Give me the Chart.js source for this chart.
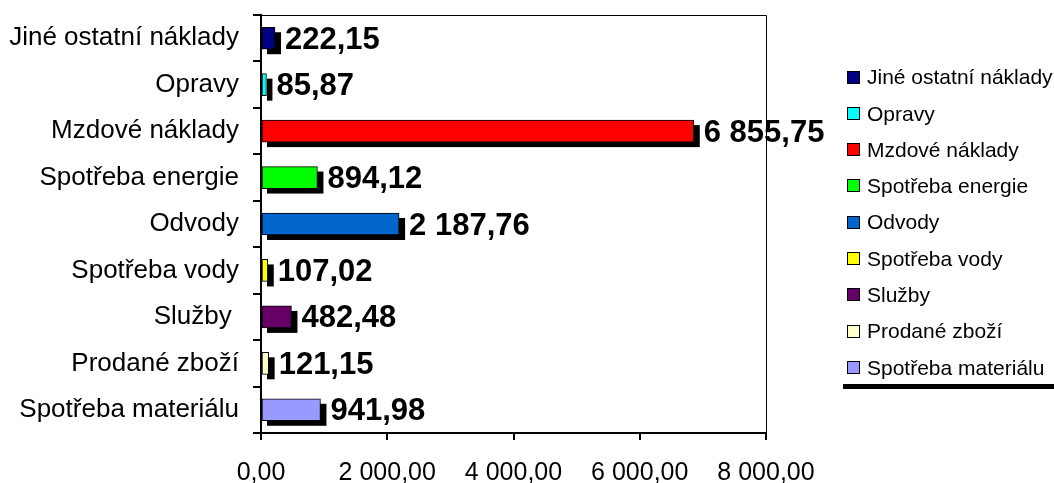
<!DOCTYPE html>
<html>
<head>
<meta charset="utf-8">
<script src="https://cdn.jsdelivr.net/npm/chart.js@4.4.1/dist/chart.umd.min.js"></script>
<style>
  html, body { margin: 0; padding: 0; background: #fff; }
  #wrap { width: 1054px; height: 483px; position: relative; }
</style>
</head>
<body>
<div id="wrap"><canvas id="chart" width="1054" height="483"></canvas></div>
<script>
const categories = ["Jiné ostatní náklady", "Opravy", "Mzdové náklady", "Spotřeba energie", "Odvody", "Spotřeba vody", "Služby ", "Prodané zboží", "Spotřeba materiálu"];
const values = [222.15, 85.87, 6855.75, 894.12, 2187.76, 107.02, 482.48, 121.15, 941.98];
const colors = ["#000080", "#00ffff", "#ff0000", "#00ff00", "#0066cc", "#ffff00", "#660066", "#ffffcc", "#9999ff"];
const xTicks = [0, 2000, 4000, 6000, 8000];

const FONT = "Arial, 'Liberation Sans', sans-serif";

function czNumber(v) {
  const [int, dec] = Math.abs(v).toFixed(2).split(".");
  return int.replace(/\B(?=(\d{3})+(?!\d))/g, " ") + "," + dec;
}

const shadowPlugin = {
  id: "shadow",
  beforeDatasetsDraw(chart) {
    const ctx = chart.ctx;
    ctx.save();
    ctx.fillStyle = "#000";
    chart.getDatasetMeta(0).data.forEach((bar) => {
      const h = bar.height;
      ctx.fillRect(bar.base + 5, bar.y - h / 2 + 5, bar.x - bar.base + 1, h);
    });
    ctx.restore();
  },
  afterDatasetsDraw(chart) {
    const ctx = chart.ctx;
    ctx.save();
    ctx.font = "bold 31px " + FONT;
    ctx.fillStyle = "#000";
    ctx.textBaseline = "middle";
    ctx.textAlign = "left";
    chart.getDatasetMeta(0).data.forEach((bar, i) => {
      ctx.fillText(czNumber(values[i]), bar.x + 10, bar.y + 2);
    });
    ctx.restore();
  },
  afterDraw(chart) {
    const ctx = chart.ctx;
    const a = chart.chartArea;
    ctx.save();
    ctx.strokeStyle = "#000";
    ctx.lineWidth = 1;
    ctx.beginPath();
    ctx.moveTo(Math.round(a.left), Math.round(a.top) + 0.5);
    ctx.lineTo(Math.round(a.right) + 0.5, Math.round(a.top) + 0.5);
    ctx.lineTo(Math.round(a.right) + 0.5, Math.round(a.bottom));
    ctx.stroke();
    // legend
    ctx.font = "21px " + FONT;
    ctx.textBaseline = "middle";
    ctx.textAlign = "left";
    categories.forEach((c, i) => {
      const y = 77.5 + i * 36.3;
      ctx.fillStyle = colors[i];
      ctx.fillRect(847, Math.round(y) - 7, 13, 13);
      ctx.strokeStyle = "#000";
      ctx.strokeRect(847.5, Math.round(y) - 6.5, 12, 12);
      ctx.fillStyle = "#000";
      ctx.fillText(c.trim(), 867, y + 1);
    });
    ctx.fillRect(843, 384, 211, 5);
    ctx.restore();
  }
};

new Chart(document.querySelector("#chart"), {
  type: "bar",
  data: {
    labels: categories,
    datasets: [{
      data: values,
      backgroundColor: colors,
      borderColor: "#000",
      borderWidth: 1,
      borderSkipped: false,
      barThickness: 22
    }]
  },
  options: {
    responsive: false,
    animation: false,
    indexAxis: "y",
    layout: { padding: { top: 15, right: 288, bottom: 0, left: 0 } },
    plugins: { legend: { display: false }, tooltip: { enabled: false } },
    scales: {
      x: {
        min: 0,
        max: 8000,
        afterBuildTicks: (axis) => { axis.ticks = xTicks.map((v) => ({ value: v })); },
        afterFit: (axis) => { axis.height = 50; axis.paddingLeft = 0; axis.paddingRight = 0; },
        ticks: { callback: (v) => czNumber(v), color: "#000", font: { family: FONT, size: 25 }, padding: 18, maxRotation: 0 },
        grid: { drawOnChartArea: false, tickLength: 7, color: "#000", lineWidth: 2 },
        border: { color: "#000", width: 2 }
      },
      y: {
        afterFit: (axis) => { axis.width = 261; axis.paddingTop = 0; axis.paddingBottom = 0; },
        ticks: { color: "#000", font: { family: FONT, size: 26 }, padding: 14 },
        grid: { drawOnChartArea: false, tickLength: 8, color: "#000", offset: true, lineWidth: 2 },
        border: { color: "#000", width: 2 }
      }
    }
  },
  plugins: [shadowPlugin]
});
</script>
</body>
</html>
